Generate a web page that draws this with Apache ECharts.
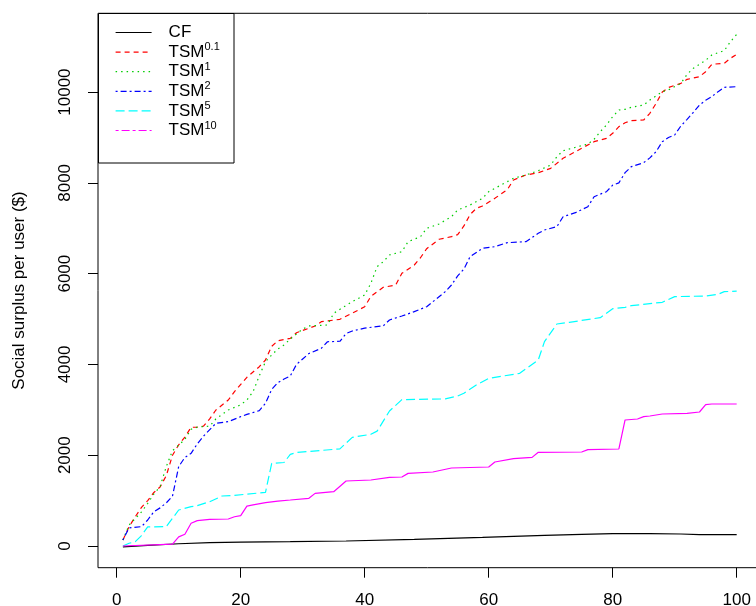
<!DOCTYPE html>
<html>
<head>
<meta charset="utf-8">
<script src="https://cdn.jsdelivr.net/npm/echarts@6/dist/echarts.min.js"></script>
<style>html,body{margin:0;padding:0;background:#fff}#c{width:756px;height:606px}</style>
</head>
<body>
<div id="c"></div>
<script>
const seriesNames = ['CF', 'TSM0.1', 'TSM1', 'TSM2', 'TSM5', 'TSM10'];
const xTicks = [0, 20, 40, 60, 80, 100];
const yTicks = [0, 2000, 4000, 6000, 8000, 10000];

const cf = [[1,-20],[5,15],[10,50],[15,75],[20,85],[28,95],[37,110],[48,147],[59,191],[69,235],[75,257],[80,272],[86,272],[91,264],[94,250],[100,250]];

const tsm01 = [[1,132],[2,426],[3,646],[4,850],[5,1000],[6,1180],[7,1300],[8,1550],[9,2000],[10,2230],[11,2400],[12,2615],[13,2620],[14,2640],[15,2800],[16,2996],[18,3216],[19,3400],[21,3716],[23,3950],[24,4098],[25,4400],[26,4523],[28,4575],[29,4699],[32,4847],[33,4941],[36,4994],[39,5199],[40,5272],[41,5500],[43,5699],[45,5750],[46,6007],[48,6190],[49,6350],[50,6550],[52,6757],[54,6814],[55,6860],[56,7050],[57,7300],[58,7439],[59,7490],[61,7659],[63,7850],[64,8063],[66,8173],[68,8224],[70,8320],[72,8541],[74,8686],[75,8761],[77,8907],[79,8981],[80,9091],[81,9237],[82,9325],[83,9369],[85,9385],[86,9532],[87,9750],[88,10000],[89,10100],[91,10192],[92,10280],[94,10339],[95,10449],[96,10612],[98,10634],[99,10744],[100,10832]];

const tsm1 = [[1,132],[2,463],[4,750],[5,940],[6,1146],[7,1307],[8,1750],[9,2100],[10,2220],[11,2350],[12,2571],[13,2620],[15,2640],[16,2800],[18,2996],[20,3110],[21,3216],[22,3400],[23,3750],[24,4060],[25,4208],[26,4340],[27,4430],[28,4560],[30,4780],[31,4847],[34,4869],[35,5126],[37,5300],[38,5382],[40,5530],[41,5787],[42,6153],[43,6263],[44,6411],[46,6484],[47,6704],[49,6814],[50,6998],[52,7094],[54,7254],[55,7402],[57,7512],[59,7659],[60,7805],[62,7953],[64,8100],[66,8173],[68,8268],[70,8393],[71,8576],[72,8708],[74,8782],[76,8856],[77,8959],[78,9127],[79,9275],[80,9458],[81,9605],[82,9620],[83,9664],[85,9715],[86,9825],[87,9914],[88,10009],[89,10046],[91,10192],[92,10390],[93,10523],[95,10700],[96,10817],[97,10868],[98,10912],[99,11110],[100,11270]];

const tsm2 = [[1,132],[2,400],[4,426],[5,573],[6,756],[7,840],[8,950],[9,1100],[10,1750],[11,1950],[12,2042],[13,2250],[14,2420],[16,2703],[18,2740],[20,2849],[21,2900],[23,2981],[24,3144],[25,3450],[26,3600],[27,3680],[28,3745],[29,4000],[30,4120],[31,4240],[33,4355],[34,4500],[36,4510],[37,4680],[38,4736],[40,4800],[43,4850],[44,4979],[46,5067],[48,5162],[50,5272],[51,5382],[53,5603],[54,5750],[55,5950],[56,6100],[57,6373],[59,6558],[61,6594],[63,6682],[66,6704],[68,6889],[69,6961],[71,7034],[72,7254],[74,7343],[76,7475],[77,7695],[79,7805],[80,7950],[81,8000],[82,8224],[83,8356],[85,8444],[86,8550],[87,8686],[88,8907],[89,9000],[90,9054],[91,9253],[92,9400],[93,9550],[94,9715],[95,9820],[96,9900],[97,10009],[98,10105],[100,10119]];

const tsm5 = [[1,0],[2,60],[3,95],[4,230],[5,420],[8,426],[10,793],[12,866],[13,888],[15,976],[17,1101],[19,1116],[24,1182],[25,1821],[27,1840],[28,2020],[29,2060],[36,2140],[38,2394],[41,2460],[42,2530],[44,2974],[46,3225],[53,3240],[55,3304],[56,3364],[58,3547],[60,3694],[65,3804],[68,4098],[69,4502],[71,4891],[73,4928],[78,5030],[80,5228],[82,5258],[83,5294],[88,5369],[90,5493],[95,5508],[97,5545],[98,5603],[100,5615]];

const tsm10 = [[1,0],[9,40],[10,200],[11,260],[12,500],[13,560],[15,585],[18,595],[19,645],[20,670],[21,880],[22,905],[24,955],[26,990],[28,1013],[31,1050],[32,1160],[35,1196],[37,1432],[41,1454],[44,1513],[46,1520],[47,1600],[51,1630],[54,1718],[60,1740],[61,1850],[64,1923],[67,1953],[68,2064],[75,2071],[76,2122],[81,2137],[82,2776],[84,2798],[85,2849],[86,2864],[88,2908],[92,2923],[94,2952],[95,3113],[96,3128],[100,3128]];

const seriesData = [cf, tsm01, tsm1, tsm2, tsm5, tsm10];
const colors = ['#000000', '#FF0000', '#00CD00', '#0000FF', '#00FFFF', '#FF00FF'];
const dashes = ['solid', [5, 4], [1.5, 4], [2, 3, 6, 3], [9, 4], 'solid'];
const legendDashes = ['solid', [5, 4], [1.5, 4], [2, 3, 6, 3], [9, 4], [3, 3, 8, 3]];

const FONT = '"Liberation Sans", Arial, Helvetica, sans-serif';
const chart = echarts.init(document.getElementById('c'), null, {renderer: 'canvas'});

chart.setOption({
  animation: false,
  backgroundColor: '#fff',
  textStyle: {fontFamily: FONT, color: '#000'},
  grid: {left: 98, top: 13.3, right: -2, bottom: 38.3, show: true, borderColor: '#000', borderWidth: 1,
    backgroundColor: 'transparent', outerBoundsMode: 'none', containLabel: false},
  xAxis: {
    type: 'value', min: -3.016, max: 103.44,
    axisLine: {show: false, onZero: false},
    splitLine: {show: false},
    axisTick: {show: true, inside: false, length: 10, lineStyle: {color: '#000'}, customValues: xTicks},
    axisLabel: {customValues: xTicks, fontSize: 17, color: '#000', fontFamily: FONT, margin: 24,
      formatter: v => String(v)}
  },
  yAxis: {
    type: 'value', min: -478, max: 11735,
    name: 'Social surplus per user ($)', nameLocation: 'middle', nameGap: 70,
    nameTextStyle: {fontSize: 17, color: '#000', fontFamily: FONT},
    axisLine: {show: false, onZero: false},
    splitLine: {show: false},
    axisTick: {show: true, inside: false, length: 10, lineStyle: {color: '#000'}, customValues: yTicks},
    axisLabel: {customValues: yTicks, rotate: 90, fontSize: 17, color: '#000', fontFamily: FONT, margin: 24,
      formatter: v => String(v)}
  },
  legend: {
    orient: 'vertical', left: 115, top: 24, padding: 0,
    itemWidth: 36, itemHeight: 14, itemGap: 0.6,
    itemStyle: {opacity: 0, borderWidth: 0},
    data: seriesNames.map((n, i) => ({name: n, lineStyle: {type: legendDashes[i], width: 1.2, color: colors[i], opacity: 1}})),
    formatter: function (name) {
      if (name.indexOf('TSM') === 0) {
        return '{g| }{t|TSM}{s|' + name.slice(3) + '}';
      }
      return '{g| }{t|' + name + '}';
    },
    textStyle: {
      fontFamily: FONT, color: '#000',
      rich: {
        g: {width: 12, fontSize: 17, lineHeight: 21},
        t: {fontSize: 17, lineHeight: 21, verticalAlign: 'middle', fontFamily: FONT, color: '#000'},
        s: {fontSize: 11, lineHeight: 21, verticalAlign: 'top', fontFamily: FONT, color: '#000'}
      }
    }
  },
  graphic: [{
    type: 'rect', z: 3, silent: true,
    shape: {x: 98.5, y: 13.5, width: 135.5, height: 149.5},
    style: {fill: '#fff', stroke: '#000', lineWidth: 1}
  }],
  series: seriesNames.map((n, i) => ({
    name: n, type: 'line', data: seriesData[i],
    symbol: 'none', showSymbol: false, clip: true,
    lineStyle: {color: colors[i], width: 1.2, type: dashes[i]},
    itemStyle: {color: colors[i]},
    z: 2
  }))
});
</script>
</body>
</html>
